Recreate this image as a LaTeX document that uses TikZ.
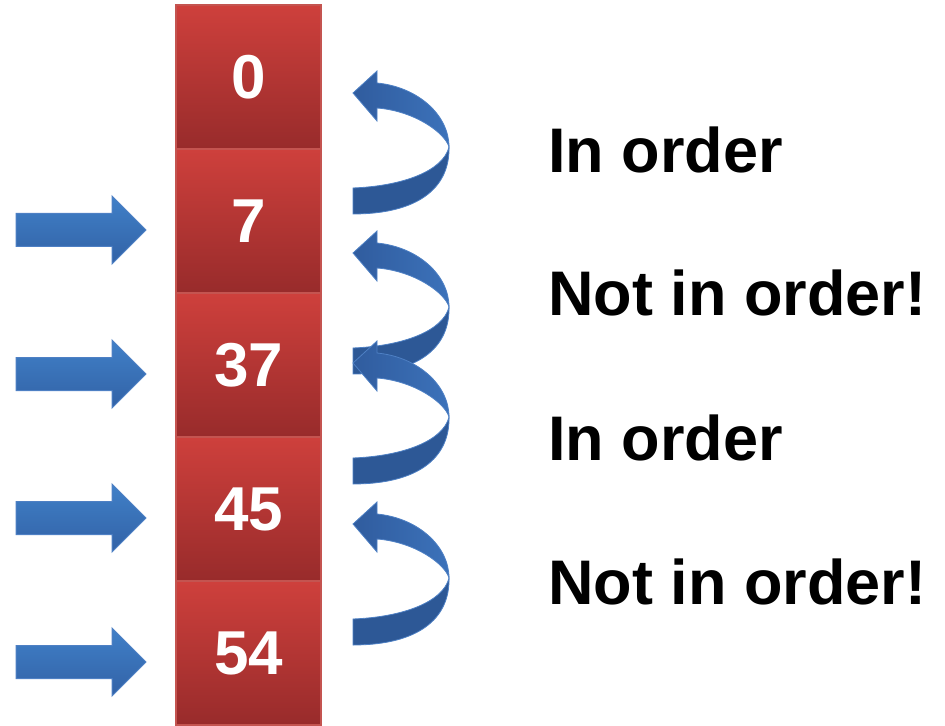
\documentclass[tikz,border=0pt]{standalone}
\usepackage{fontspec}
\setmainfont{Liberation Sans}
\definecolor{boxtop}{RGB}{206,64,60}
\definecolor{boxbot}{RGB}{152,43,43}
\definecolor{boxedge}{RGB}{196,84,80}
\definecolor{arrtop}{RGB}{64,128,200}
\definecolor{arrbot}{RGB}{50,98,166}
\definecolor{arredge}{RGB}{78,128,196}
\definecolor{bandleft}{RGB}{48,92,158}
\definecolor{bandright}{RGB}{60,114,186}
\definecolor{bandlo}{RGB}{45,88,150}
\tikzset{
  numbox/.style={draw=boxedge, line width=0.8pt, top color=boxtop, bottom color=boxbot,
    minimum width=72.5pt, minimum height=72pt, inner sep=0pt, text=white,
    font=\fontsize{31pt}{36pt}\selectfont\bfseries},
  lbltext/.style={inner sep=0pt, anchor=base west, font=\fontsize{31.5pt}{36pt}\selectfont\bfseries},
  rarrow/.style={draw=arredge, line width=0.5pt, top color=arrtop, bottom color=arrbot},
  bandlow/.style={fill=bandlo, draw=arredge, line width=0.4pt},
  bandup/.style={left color=bandleft, right color=bandright, draw=arredge, line width=0.4pt}
}
\newcommand\rightarr[1]{%
  \path[rarrow] (16,#1-16.5) -- (112,#1-16.5) -- (112,#1-34) -- (146,#1) -- (112,#1+34)
    -- (112,#1+16.5) -- (16,#1+16.5) -- cycle;}
\newcommand\curvarr[2]{%
  \begin{scope}[shift={(#1,#2)}]
    \path[bandlow] (0,95) .. controls (50,93) and (90,78) .. (96,54)
      .. controls (97,95) and (65,121) .. (0,121) -- cycle;
    \path[bandup] (0,0) -- (24,-22) -- (24,-10) .. controls (65,-6) and (96,22) .. (96,54)
      .. controls (92,40) and (62,18) .. (24,15) -- (24,28) -- cycle;
  \end{scope}}
\begin{document}
\begin{tikzpicture}[x=0.5pt,y=-0.5pt]
  \useasboundingbox (0,0) rectangle (945,726);
  \node[numbox] (b0) at (248.5,77) {0};
  \node[numbox] (b1) at (248.5,221) {7};
  \node[numbox] (b2) at (248.5,365) {37};
  \node[numbox] (b3) at (248.5,509) {45};
  \node[numbox] (b4) at (248.5,653) {54};
  \rightarr{230}
  \rightarr{374}
  \rightarr{518}
  \rightarr{662}
  \curvarr{353}{93}
  \curvarr{353}{253}
  \curvarr{353}{363}
  \curvarr{353}{524}
  \node[lbltext] (t1) at (548,173) {In order};
  \node[lbltext] (t2) at (548,316) {Not in order!};
  \node[lbltext] (t3) at (548,460) {In order};
  \node[lbltext] (t4) at (548,604) {Not in order!};
\end{tikzpicture}
\end{document}
